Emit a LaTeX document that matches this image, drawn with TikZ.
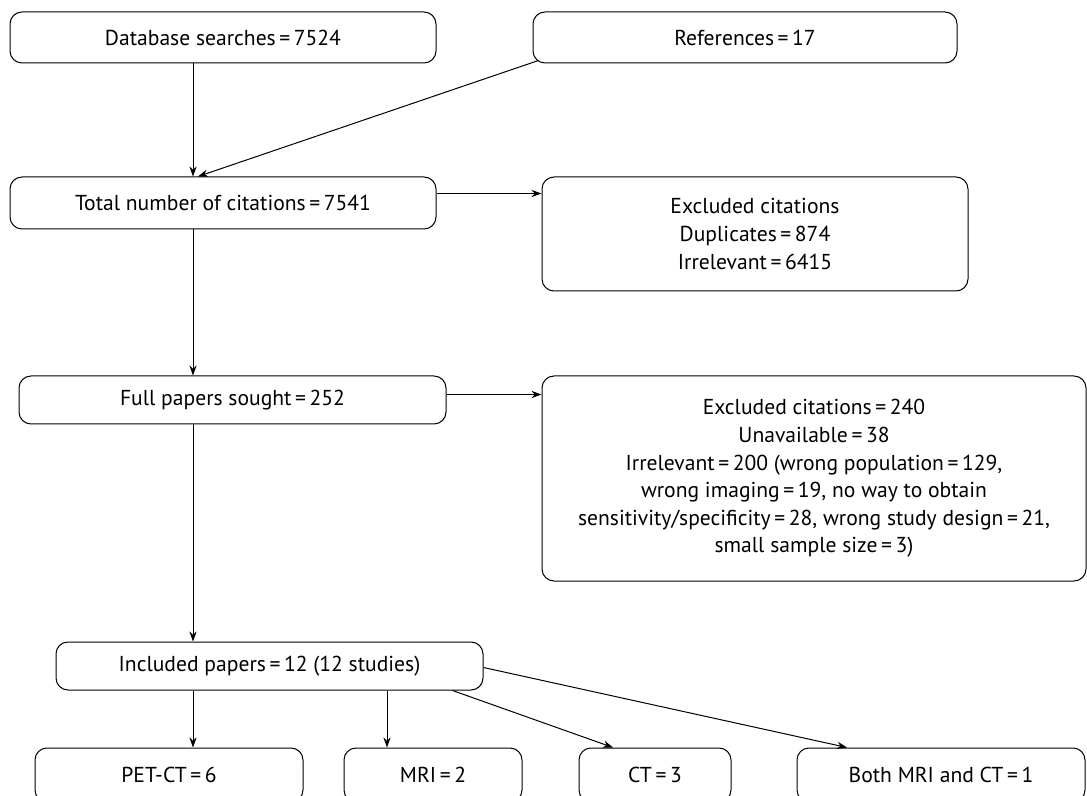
\documentclass[tikz,border=0pt]{standalone}
\usepackage{fontspec}
\setmainfont{PT Sans}
\usetikzlibrary{arrows.meta}
\tikzset{
  box/.style={draw, rounded corners=6pt, line width=0.5pt, inner sep=0pt, align=center,
    font=\fontsize{10.8}{13.8}\selectfont},
  arr/.style={-{Stealth[length=5pt,width=3.6pt]}, line width=0.5pt},
}
\begin{document}
\begin{tikzpicture}[x=0.5pt,y=-0.5pt]
\useasboundingbox (0,0) rectangle (1087,796);
\clip (0,0) rectangle (1087,796);
\coordinate (spine) at (193,0);
% search stage
\node[box, minimum width=213pt, minimum height=25.5pt] (db) at (223,37.5) {Database searches\,=\,7524};
\node[box, minimum width=212pt, minimum height=25.5pt] (ref) at (745,37.5) {References\,=\,17};
\node[box, minimum width=213pt, minimum height=26pt] (total) at (223,203) {Total number of citations\,=\,7541};
\node[box, minimum width=213pt, minimum height=57pt] (exA) at (755,234) {Excluded citations\\Duplicates\,=\,874\\Irrelevant\,=\,6415};
% full papers
\node[box, minimum width=213.5pt, minimum height=24pt] (full) at (232.5,400) {Full papers sought\,=\,252};
\node[box, minimum width=272pt, minimum height=102.5pt] (exB) at (814,478.5) {Excluded citations\,=\,240\\Unavailable\,=\,38\\Irrelevant\,=\,200 (wrong population\,=\,129,\\wrong imaging\,=\,19, no way to obtain\\sensitivity/specificity\,=\,28, wrong study design\,=\,21,\\small sample size\,=\,3)};
% included
\node[box, minimum width=213.5pt, minimum height=24pt] (inc) at (269.5,666) {Included papers\,=\,12 (12 studies)};
\foreach \n/\cx/\w/\t in {pet/169/134/PET-CT\,=\,6, mri/433/89/MRI\,=\,2, ct/655/76/CT\,=\,3, both/941/144/Both MRI and CT\,=\,1}
  \node[box, minimum width=\w pt, minimum height=27pt] (\n) at (\cx,775) {\t};
\coordinate (mriin) at ([xshift=-23pt]mri.north);

\draw[arr] (db.south -| spine) -- (total.north -| spine);
\draw[arr] ([xshift=3pt,yshift=1.5pt]ref.south west) -- ([xshift=2.5pt]total.north -| spine);
\draw[arr] ([yshift=-8.5pt]total.north east) -- ([yshift=-8.5pt]exA.north west);
\draw[arr] (total.south -| spine) -- (full.north -| spine);
\draw[arr] ([yshift=-9.5pt]full.north east) -- ([yshift=-9.5pt]exB.north west);
\draw[arr] (full.south -| spine) -- (inc.north -| spine);
\draw[arr] (inc.south -| spine) -- (pet.north -| spine);
\draw[arr] (inc.south -| mriin) -- (mriin);
\draw[arr] ([xshift=-15.5pt]inc.south east) -- ([xshift=-21pt]ct.north);
\draw[arr] ([yshift=-13pt]inc.north east) -- ([xshift=-47pt]both.north);
\end{tikzpicture}
\end{document}
